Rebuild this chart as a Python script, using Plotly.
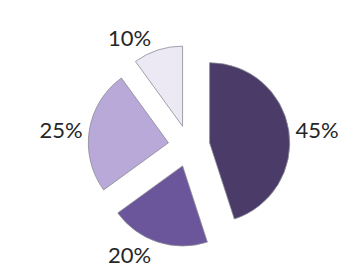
import plotly.graph_objects as go

labels = ["A", "B", "C", "D"]
values = [45, 20, 25, 10]
colors = ["#4A3B69", "#6B569B", "#B8A9D8", "#ECE8F4"]
pulls = [0.26, 0.26, 0.26, 0.26]

fig = go.Figure(go.Pie(
    labels=labels,
    values=values,
    sort=False,
    direction="clockwise",
    rotation=0,
    pull=pulls,
    marker=dict(colors=colors, line=dict(color="#8a8a96", width=0.8)),
    textinfo="percent",
    texttemplate="%{percent:.0%}",
    textposition="outside",
    textfont=dict(family="Lato", size=22, color="#262626"),
    showlegend=False,
    automargin=False,
    domain=dict(x=[0.2248, 0.7922], y=[0.118, 0.863]),
))
fig.update_layout(
    width=356, height=271,
    margin=dict(l=0, r=0, t=0, b=0, autoexpand=False),
    paper_bgcolor="white",
    plot_bgcolor="white",
)
fig.write_html("out.html")
